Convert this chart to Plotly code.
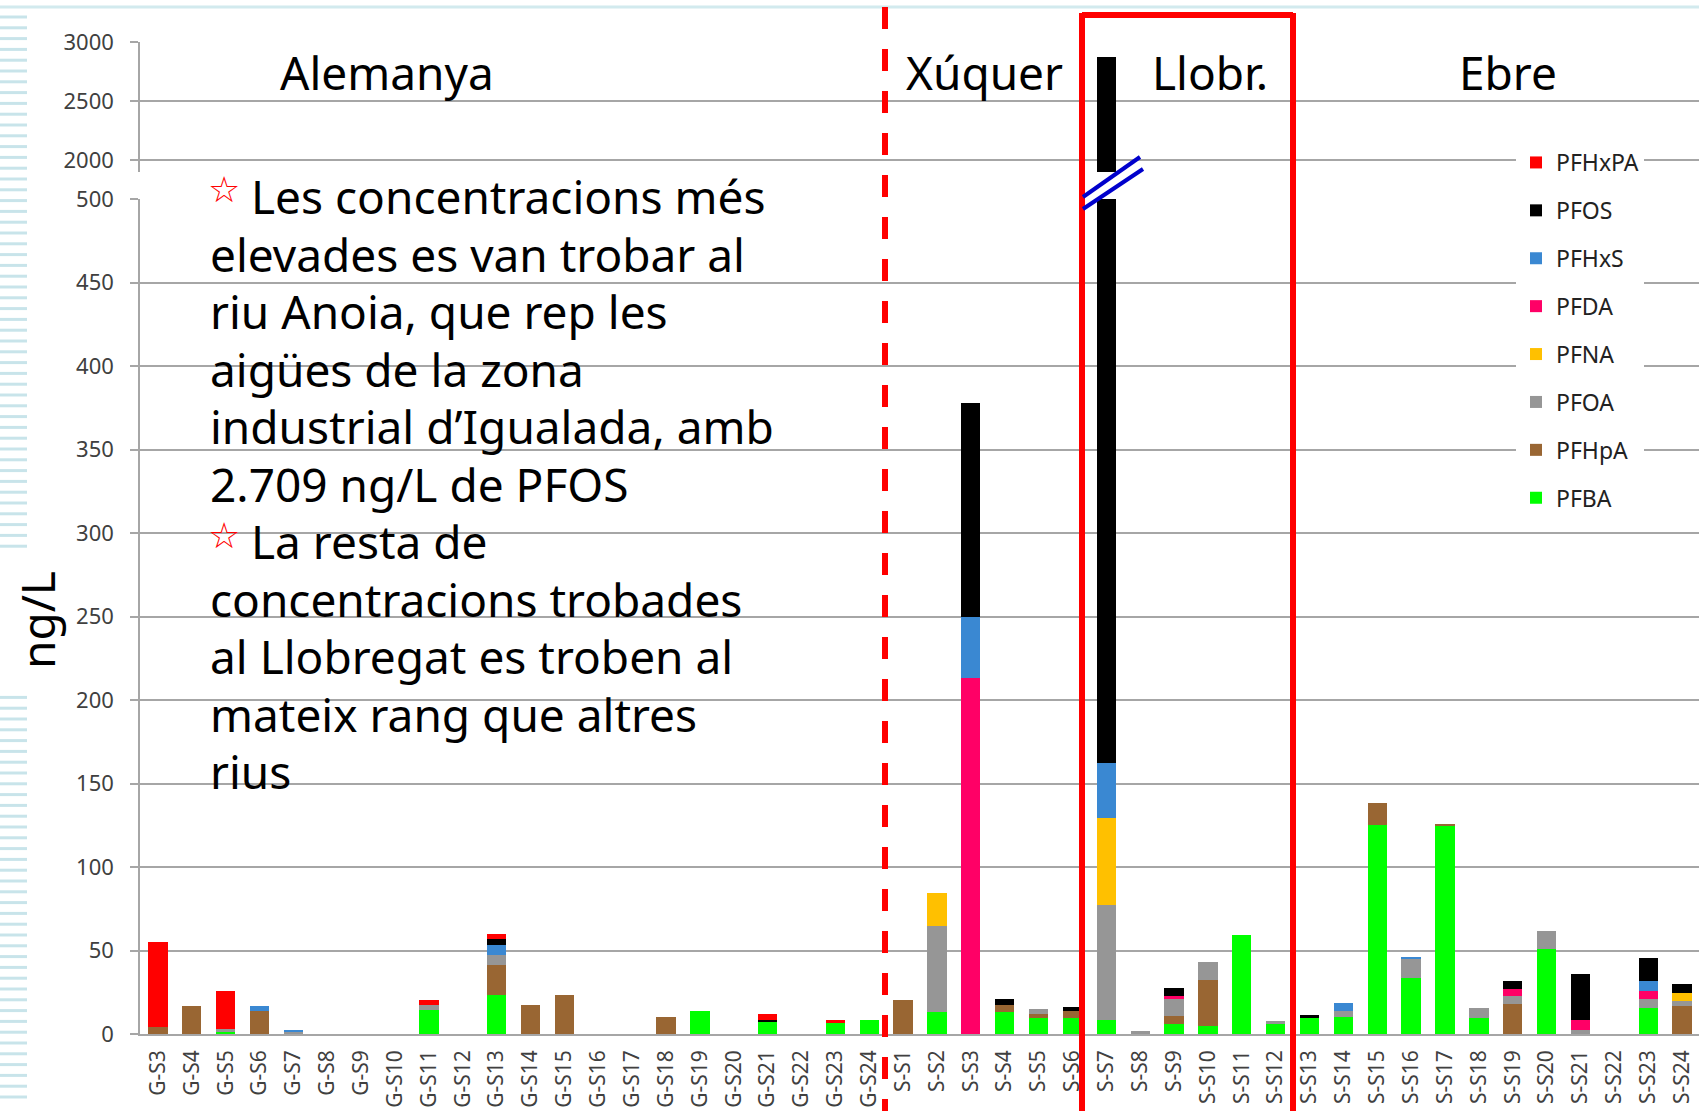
import plotly.graph_objects as go

# ---------------- data ----------------
categories = (["G-S%d" % i for i in range(3, 25)] +
              ["S-S%d" % i for i in range(1, 25)])

PFBA = [0, 0, 1.4, 0, 0, 0, 0, 0, 14.1, 0, 23.4, 0, 0, 0, 0, 0, 13.5, 0, 6.9, 0, 6.3, 8.5,
        0, 12.9, 0, 13.3, 9.7, 9.8, 8.4, 0, 5.8, 5.0, 59.0, 5.8, 9.8, 10.0, 125.0, 33.7, 125.0, 9.8,
        0, 51.2, 0, 0, 15.3, 0]
PFHpA = [4.4, 17.0, 0, 13.5, 0, 0, 0, 0, 0, 0, 17.9, 17.5, 23.2, 0, 0, 9.9, 0, 0, 0, 0, 0, 0,
         20.4, 0, 0, 4.2, 2.2, 4.2, 0, 0, 5.0, 27.3, 0, 0, 0, 0, 13.5, 0, 0.8, 0,
         17.7, 0, 0, 0, 0, 16.9]
PFOA = [0, 0, 1.6, 0, 1.6, 0, 0, 0, 3.4, 0, 6.2, 0, 0, 0, 0, 0, 0, 0, 0, 0, 0, 0,
        0, 51.6, 0, 0, 2.8, 0, 68.7, 1.6, 10.4, 10.6, 0, 2.0, 0, 4.0, 0, 11.6, 0, 5.6,
        4.8, 10.6, 2.4, 0, 5.6, 2.8]
PFNA = [0] * 22 + [0, 19.8, 0, 0, 0, 0, 52.2, 0, 0, 0, 0, 0, 0, 0, 0, 0, 0, 0,
                   0, 0, 0, 0, 0, 4.8]
PFDA = [0] * 22 + [0, 0, 213.2, 0, 0, 0, 0, 0, 1.6, 0, 0, 0, 0, 0, 0, 0, 0, 0,
                   4.2, 0, 6.0, 0, 5.0, 0]
PFHxS = [0, 0, 0, 3.4, 0.8, 0, 0, 0, 0, 0, 5.6, 0, 0, 0, 0, 0, 0, 0, 0, 0, 0, 0,
         0, 0, 36.7, 0, 0, 0, 32.9, 0, 0, 0, 0, 0, 0, 4.4, 0, 0.6, 0, 0,
         0, 0, 0, 0, 5.6, 0]
PFOS = [0, 0, 0, 0, 0, 0, 0, 0, 0, 0, 4.0, 0, 0, 0, 0, 0, 0, 0, 1.2, 0, 0, 0,
        0, 0, 128.0, 3.4, 0, 2.2, 2709.0, 0, 4.8, 0, 0, 0, 1.6, 0, 0, 0, 0, 0,
        4.8, 0, 27.3, 0, 14.1, 5.6]
PFHxPA = [50.8, 0, 23.0, 0, 0, 0, 0, 0, 2.8, 0, 3.0, 0, 0, 0, 0, 0, 0, 0, 4.0, 0, 2.2, 0] + [0] * 24

series = [("PFBA", PFBA, "#00FF00"), ("PFHpA", PFHpA, "#996633"), ("PFOA", PFOA, "#969696"),
          ("PFNA", PFNA, "#FFC000"), ("PFDA", PFDA, "#FF0066"), ("PFHxS", PFHxS, "#3A88D2"),
          ("PFOS", PFOS, "#000000"), ("PFHxPA", PFHxPA, "#FF0000")]

lower_ticks = list(range(0, 501, 50))
upper_ticks = [2000, 2500, 3000]

region_labels = [("Alemanya", 387), ("Xúquer", 984), ("Llobr.", 1210), ("Ebre", 1508)]
note_lines = ["Les concentracions més", "elevades es van trobar al", "riu Anoia, que rep les",
              "aigües de la zona", "industrial d’Igualada, amb", "2.709 ng/L de PFOS",
              "La resta de", "concentracions trobades", "al Llobregat es troben al",
              "mateix rang que altres", "rius"]

# ---------------- layout geometry (pixels) ----------------
W, H = 1699, 1111
L, R, T, B = 140, 0, 42, 77
PW, PH = W - L - R, H - T - B


def px(x):
    return (x - L) / PW


def py(y):
    return (H - B - y) / PH


fig = go.Figure()
for i, (name, vals, col) in enumerate(series):
    fig.add_trace(go.Bar(x=categories, y=vals, name=name, marker=dict(color=col, line=dict(width=0)),
                         legendgroup=name, legendrank=100 - i, xaxis="x", yaxis="y"))
for i, (name, vals, col) in enumerate(series):
    fig.add_trace(go.Bar(x=categories, y=vals, name=name, marker=dict(color=col, line=dict(width=0)),
                         legendgroup=name, legendrank=100 - i, showlegend=False, xaxis="x", yaxis="y2"))

grid = "#a6a6a6"
tickfont = dict(family="Noto Sans, Open Sans, sans-serif", size=22, color="#404040")

shapes = []
# decorative left stripes
k = 0
while True:
    y = 17 + 10.8 * k
    if y > 1106:
        break
    if not (550 < y < 688):
        shapes.append(dict(type="line", xref="paper", yref="paper", x0=px(0), x1=px(27),
                           y0=py(y), y1=py(y), line=dict(color="#c8e4ea", width=3)))
    k += 1
# top light line
shapes.append(dict(type="line", xref="paper", yref="paper", x0=px(0), x1=px(W), y0=py(7), y1=py(7),
                   line=dict(color="#d2eaee", width=3)))
# red dashed separator
shapes.append(dict(type="line", xref="paper", yref="paper", x0=px(885), x1=px(885), y0=py(7), y1=py(H),
                   line=dict(color="#ff0000", width=6, dash="22px,20px")))
# red bracket box
for x in (1082, 1293):
    shapes.append(dict(type="line", xref="paper", yref="paper", x0=px(x), x1=px(x), y0=py(13), y1=py(H),
                       line=dict(color="#ff0000", width=6)))
shapes.append(dict(type="line", xref="paper", yref="paper", x0=px(1082), x1=px(1293), y0=py(15), y1=py(15),
                   line=dict(color="#ff0000", width=6)))
# axis break marks
for (x0, y0, x1, y1) in [(1083, 197, 1140, 157), (1083, 209, 1143, 169)]:
    shapes.append(dict(type="line", xref="paper", yref="paper", x0=px(x0), x1=px(x1), y0=py(y0), y1=py(y1),
                       line=dict(color="#0000cc", width=4)))

annotations = []
for text, x in region_labels:
    annotations.append(dict(text=text, xref="paper", yref="paper", x=px(x), y=py(72), xanchor="center",
                            yanchor="middle", showarrow=False,
                            font=dict(family="Noto Sans, sans-serif", size=46, color="black")))
for i, line in enumerate(note_lines):
    yc = 196 + 57.5 * i
    x0 = 249 if i in (0, 6) else 208
    annotations.append(dict(text=line, xref="paper", yref="paper", x=px(x0), y=py(yc), xanchor="left",
                            yanchor="middle", showarrow=False,
                            font=dict(family="Noto Sans, sans-serif", size=46, color="black")))
    if i in (0, 6):
        annotations.append(dict(text="☆", xref="paper", yref="paper", x=px(224), y=py(yc - 6),
                                xanchor="center", yanchor="middle", showarrow=False,
                                font=dict(family="DejaVu Sans, sans-serif", size=36, color="#ff0000")))
annotations.append(dict(text="ng/L", xref="paper", yref="paper", x=px(37), y=py(620), textangle=-90,
                        xanchor="center", yanchor="middle", showarrow=False,
                        font=dict(family="Noto Sans, sans-serif", size=46, color="black")))

fig.update_layout(
    width=W, height=H, margin=dict(l=L, r=R, t=T, b=B, autoexpand=False),
    paper_bgcolor="white", plot_bgcolor="white",
    barmode="stack", bargap=0.43,
    xaxis=dict(type="category", range=[-0.53, 45.5], showgrid=False, showline=True, linecolor=grid,
               linewidth=1.5, ticks="", tickangle=-90, ticklabelstandoff=6, automargin=False,
               tickfont=dict(family="Noto Sans, Open Sans, sans-serif", size=21, color="#404040"),
               anchor="y", fixedrange=True),
    yaxis=dict(domain=[0, py(199)], range=[0, 500], tickvals=lower_ticks, showgrid=True, gridcolor=grid,
               gridwidth=1.5, zeroline=False, showline=True, linecolor=grid, linewidth=1.5,
               ticks="outside", ticklen=8, tickcolor=grid, tickwidth=1.5, ticklabelstandoff=12,
               tickfont=tickfont, automargin=False, anchor="x"),
    yaxis2=dict(domain=[py(172), 1], range=[1900, 3000], tickvals=upper_ticks, showgrid=True,
                gridcolor=grid, gridwidth=1.5, zeroline=False, showline=True, linecolor=grid,
                linewidth=1.5, ticks="outside", ticklen=8, tickcolor=grid, tickwidth=1.5,
                ticklabelstandoff=12, tickfont=tickfont, automargin=False, anchor="x"),
    legend=dict(x=px(1516), y=py(141), xanchor="left", yanchor="top", bgcolor="white",
                traceorder="grouped", tracegroupgap=15,
                font=dict(family="Noto Sans, Open Sans, sans-serif", size=23, color="#222222")),
    shapes=shapes, annotations=annotations, showlegend=True,
)

fig.write_html("out.html", config={"displayModeBar": False},
               post_script="document.body.style.margin='0px';document.documentElement.style.overflow='hidden';")
